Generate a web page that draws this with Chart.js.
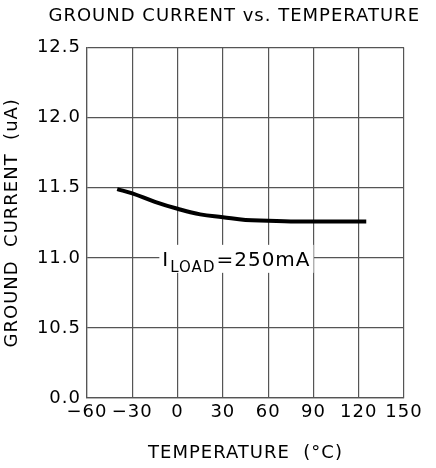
<!DOCTYPE html>
<html>
<head>
<meta charset="utf-8">
<script src="https://cdn.jsdelivr.net/npm/chart.js@4"></script>
<style>
  html, body { margin: 0; padding: 0; background: #fff; }
  #wrap { width: 436px; height: 468px; }
</style>
</head>
<body>
<div id="wrap"><canvas id="chart" width="436" height="468"></canvas></div>
<script>
// ==================== DATA ====================
const temps = [-40, -30, -15, 0, 15, 30, 45, 60, 75, 90, 105, 125];
const groundCurrent = [11.49, 11.46, 11.40, 11.35, 11.31, 11.29, 11.27, 11.265, 11.26, 11.26, 11.26, 11.26];
const xTicks = [-60, -30, 0, 30, 60, 90, 120, 150];
const yTicks = [10.0, 10.5, 11.0, 11.5, 12.0, 12.5];
const yTickLabels = ['0.0', '10.5', '11.0', '11.5', '12.0', '12.5'];

const FONT = 'DejaVu Sans';

// wider lettering, like the plotter font of the original
const spacing = {
  id: 'spacing',
  beforeUpdate(chart) { chart.ctx.letterSpacing = '1px'; },
  beforeDraw(chart) { chart.ctx.letterSpacing = '1px'; }
};

// label "I_LOAD=250mA" drawn at a data position, with white box over the grid line
const loadLabel = {
  id: 'loadLabel',
  afterDatasetsDraw(chart) {
    const ctx = chart.ctx;
    const x = chart.scales.x.getPixelForValue(39);
    const y = chart.scales.y.getPixelForValue(11.0);
    ctx.save();
    ctx.letterSpacing = '1px';
    const big = '20px ' + FONT;
    const small = '15px ' + FONT;
    ctx.font = big;
    const wI = ctx.measureText('I').width;
    const wRest = ctx.measureText('=250mA').width;
    ctx.font = small;
    const wSub = ctx.measureText('LOAD').width;
    const total = wI + wSub + wRest + 2;
    let left = x - total / 2;
    ctx.fillStyle = '#fff';
    ctx.fillRect(left - 3, y - 13, total + 6, 28);
    ctx.fillStyle = '#000';
    ctx.textBaseline = 'alphabetic';
    ctx.font = big;
    ctx.fillText('I', left, y + 8);
    left += wI + 1;
    ctx.font = small;
    ctx.fillText('LOAD', left, y + 14);
    left += wSub + 1;
    ctx.font = big;
    ctx.fillText('=250mA', left, y + 8);
    ctx.restore();
  }
};

const ctx = document.getElementById('chart').getContext('2d');
new Chart(ctx, {
  type: 'scatter',
  data: {
    datasets: [{
      data: temps.map((t, i) => ({ x: t, y: groundCurrent[i] })),
      showLine: true,
      borderColor: '#000',
      borderWidth: 4,
      pointRadius: 0,
      tension: 0.4,
      fill: false
    }]
  },
  options: {
    responsive: false,
    animation: false,
    layout: { padding: { left: 0, right: 16, top: 0, bottom: 0 } },
    plugins: {
      legend: { display: false },
      tooltip: { enabled: false },
      title: {
        display: true,
        text: 'GROUND CURRENT vs. TEMPERATURE',
        color: '#000',
        font: { family: FONT, size: 18, weight: 'normal' },
        padding: { top: 6, bottom: 20 },
        align: 'end'
      }
    },
    scales: {
      x: {
        type: 'linear',
        min: -60,
        max: 150,
        afterBuildTicks: s => { s.ticks = xTicks.map(v => ({ value: v })); },
        afterFit: s => { s.height = 70; },
        ticks: {
          color: '#000',
          font: { family: FONT, size: 18 },
          padding: 4,
          maxRotation: 0,
          minRotation: 0,
          autoSkip: false,
          callback: v => (v < 0 ? '\u2212' + Math.abs(v) : String(v))
        },
        grid: { color: '#555', lineWidth: 1.2, drawTicks: false },
        border: { color: '#555', width: 1.2 },
        title: {
          display: true,
          text: 'TEMPERATURE  (\u00B0C)',
          color: '#000',
          font: { family: FONT, size: 18 },
          padding: { top: 12 }
        }
      },
      y: {
        type: 'linear',
        min: 10.0,
        max: 12.5,
        afterBuildTicks: s => { s.ticks = yTicks.map(v => ({ value: v })); },
        afterFit: s => { s.width = 87; },
        ticks: {
          color: '#000',
          font: { family: FONT, size: 18 },
          padding: 6,
          callback: function (v) {
            const i = yTicks.indexOf(v);
            return i >= 0 ? yTickLabels[i] : '';
          }
        },
        grid: { color: '#555', lineWidth: 1.2, drawTicks: false },
        border: { color: '#555', width: 1.2 },
        title: {
          display: true,
          text: 'GROUND  CURRENT  (uA)',
          color: '#000',
          font: { family: FONT, size: 18 },
          padding: { top: 2, bottom: 2 }
        }
      },
      // empty right-hand axis, only reserves room so the plot ends where the original does
      y2: {
        position: 'right',
        display: true,
        afterFit: s => { s.width = 16; },
        ticks: { display: false },
        grid: { display: false, drawOnChartArea: false },
        border: { display: false }
      }
    }
  },
  plugins: [spacing, loadLabel]
});
</script>
</body>
</html>
